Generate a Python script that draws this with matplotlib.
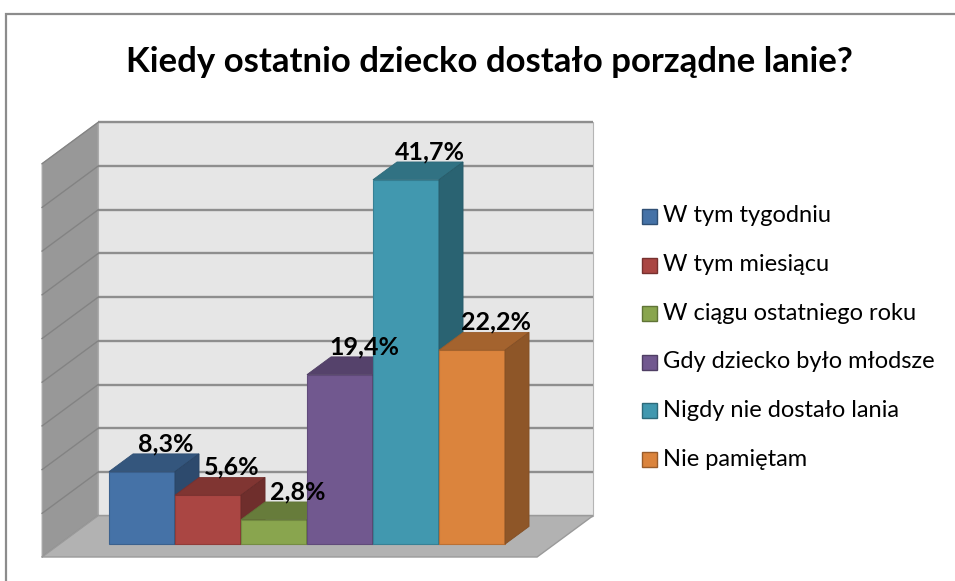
"""3D-style column chart: Kiedy ostatnio dziecko dostało porządne lanie?"""

import matplotlib
matplotlib.use("Agg")
import matplotlib.pyplot as plt
from matplotlib.patches import Polygon, Rectangle
import matplotlib.colors as mcolors
import numpy as np

categories = [
    "W tym tygodniu",
    "W tym miesiącu",
    "W ciągu ostatniego roku",
    "Gdy dziecko było młodsze",
    "Nigdy nie dostało lania",
    "Nie pamiętam",
]
values = [8.3, 5.6, 2.8, 19.4, 41.7, 22.2]
labels = ["8,3%", "5,6%", "2,8%", "19,4%", "41,7%", "22,2%"]
colors = ["#4572A7", "#AA4643", "#89A54E", "#71588F", "#4198AF", "#DB843D"]
gridlines = np.arange(0, 50, 5)

W, H = 955, 581
plt.rcParams["font.family"] = ["Lato", "DejaVu Sans"]

# oblique projection: depth z in [0, 1] shifts points right/up
kx, ky = 56 / 66, 41.3 / 8.74
zf, zb = 0.31, 0.74
x0, x1 = -0.75, 6.75
ymax = 45


def shade(c, f):
    r, g, b = mcolors.to_rgb(c)
    return (r * f, g * f, b * f)


def fig_xy(px, py):
    return px / W, 1 - py / H


fig = plt.figure(figsize=(W / 100, H / 100), dpi=100)
ax = fig.add_axes([0, 0, 1, 1])
ax.set_xlim(-91.6 / 66, (W - 91.6) / 66)
ax.set_ylim(-24 / 8.74, (H - 24) / 8.74)
ax.axis("off")

# chart border
fig.patches.append(Rectangle(fig_xy(6, H + 10), (W + 10) / W, (H - 4) / H,
                             transform=fig.transFigure, fill=False,
                             edgecolor="#8c8c8c", linewidth=1.6))

# walls and floor
ax.add_patch(Rectangle((x0 + kx, ky), x1 - x0, ymax, facecolor="#e6e6e6",
                       edgecolor="#b5b5b5", linewidth=0.8, zorder=1))
ax.add_patch(Polygon([(x0, 0), (x0 + kx, ky), (x0 + kx, ymax + ky), (x0, ymax)],
                     closed=True, facecolor="#989898", edgecolor="#a8a8a8",
                     linewidth=0.8, zorder=1))
for g in gridlines:
    ax.plot([x0 + kx, x1 + kx], [g + ky, g + ky], color="#8e8e8e", lw=1.7,
            zorder=2, solid_capstyle="butt")
    ax.plot([x0, x0 + kx], [g, g + ky], color="#838383", lw=1.0, zorder=2)
ax.add_patch(Polygon([(x0, 0), (x1, 0), (x1 + kx, ky), (x0 + kx, ky)],
                     closed=True, facecolor="#b2b2b2", edgecolor="#9a9a9a",
                     linewidth=1.0, zorder=3))

# bars, drawn left to right so later bars hide earlier side faces
for i, (v, c) in enumerate(zip(values, colors)):
    z = 4 + i
    ax.bar(i + zf * kx, v, width=1, bottom=zf * ky, align="edge",
           color=c, edgecolor=shade(c, 0.85), linewidth=0.8, zorder=z)
    top = [(i + zf * kx, v + zf * ky), (i + 1 + zf * kx, v + zf * ky),
           (i + 1 + zb * kx, v + zb * ky), (i + zb * kx, v + zb * ky)]
    side = [(i + 1 + zf * kx, zf * ky), (i + 1 + zb * kx, zb * ky),
            (i + 1 + zb * kx, v + zb * ky), (i + 1 + zf * kx, v + zf * ky)]
    ax.add_patch(Polygon(top, closed=True, facecolor=shade(c, 0.75),
                         edgecolor=shade(c, 0.7), linewidth=0.6, zorder=z))
    ax.add_patch(Polygon(side, closed=True, facecolor=shade(c, 0.65),
                         edgecolor=shade(c, 0.6), linewidth=0.6, zorder=z))

for i, (v, lab) in enumerate(zip(values, labels)):
    ax.annotate(lab, (i + 0.5 + zb * kx, v + zb * ky), xytext=(0, 2),
                textcoords="offset points", ha="center", va="baseline",
                fontsize=18, fontweight="bold", color="black", zorder=20)

fig.text(*fig_xy(489, 62), "Kiedy ostatnio dziecko dostało porządne lanie?",
         ha="center", va="center", fontsize=25, fontweight="bold")

# legend
for k, (cat, c) in enumerate(zip(categories, colors)):
    cy = 216 + k * 48.6
    fig.patches.append(Rectangle(fig_xy(642, cy + 8), 15 / W, 15 / H,
                                 transform=fig.transFigure, facecolor=c,
                                 edgecolor=shade(c, 0.7), linewidth=1.0))
    fig.text(*fig_xy(663, cy), cat, ha="left", va="center", fontsize=17)

fig.savefig("out.png", dpi=100)
